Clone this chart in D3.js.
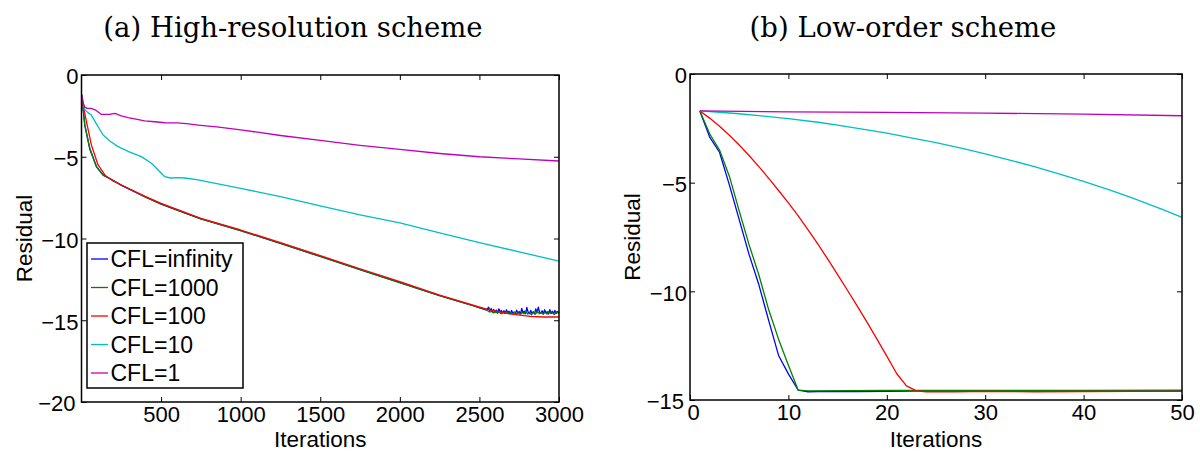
<!DOCTYPE html>
<html>
<head>
<meta charset="utf-8">
<script src="https://cdn.jsdelivr.net/npm/d3@7"></script>
<style>
  body { margin: 0; background: white; }
  svg text { font-family: "Liberation Sans", Arial, sans-serif; fill: black; }
  .title { font-family: "DejaVu Serif", serif; font-size: 27.5px; }
  .tick text { font-size: 22px; }
  .axis-label { font-size: 22.5px; }
  .legend-label { font-size: 23px; }
</style>
</head>
<body>
<div class="chart"></div>
<script>
'use strict';

// Series names, shared by both panels
var SERIES_NAMES = ['CFL=infinity', 'CFL=1000', 'CFL=100', 'CFL=10', 'CFL=1'];
var SERIES_COLOR = ['#0000ff', '#008000', '#ff0000', '#00bfbf', '#bf00bf'];

var TITLES = ['(a) High-resolution scheme', '(b) Low-order scheme'];

// Tick values
var HI_X_TICKS = [500, 1000, 1500, 2000, 2500, 3000];
var HI_Y_TICKS = [0, -5, -10, -15, -20];
var LO_X_TICKS = [0, 10, 20, 30, 40, 50];
var LO_Y_TICKS = [0, -5, -10, -15];

// (a) High-resolution scheme: [iteration, log residual]
var hiInfinity = [
  [1, -1.22], [21, -3.1], [52, -4.52], [94, -5.62], [136, -6.12], [200, -6.45], [251, -6.75],
  [400, -7.46], [500, -7.9], [600, -8.26], [750, -8.8], [1000, -9.52], [1250, -10.3],
  [1500, -11.1], [1750, -11.9], [2000, -12.7], [2250, -13.5], [2460, -14.1], [2540, -14.36],
  [2550, -14.3], [2558, -14.2], [2566, -14.42], [2574, -14.28], [2582, -14.5], [2590, -14.34],
  [2598, -14.52], [2606, -14.38], [2614, -14.55], [2622, -14.3], [2630, -14.5], [2638, -14.4],
  [2646, -14.56], [2654, -14.42], [2662, -14.58], [2670, -14.36], [2678, -14.55], [2686, -14.45],
  [2694, -14.6], [2702, -14.4], [2710, -14.58], [2718, -14.5], [2726, -14.6], [2734, -14.38],
  [2742, -14.58], [2750, -14.46], [2758, -14.62], [2766, -14.28], [2774, -14.55], [2782, -14.45],
  [2790, -14.6], [2798, -14.22], [2806, -14.5], [2814, -14.6], [2822, -14.4], [2830, -14.58],
  [2838, -14.48], [2846, -14.62], [2854, -14.3], [2862, -14.55], [2870, -14.2], [2878, -14.5],
  [2886, -14.58], [2894, -14.42], [2902, -14.6], [2910, -14.36], [2918, -14.55], [2926, -14.48],
  [2934, -14.62], [2942, -14.35], [2950, -14.56], [2958, -14.45], [2966, -14.6], [2974, -14.4],
  [2982, -14.58], [2990, -14.46], [3000, -14.55]
];
var hi1000 = [
  [1, -1.22], [21, -3.06], [52, -4.48], [94, -5.6], [136, -6.12], [200, -6.45], [251, -6.73],
  [400, -7.45], [500, -7.88], [600, -8.25], [750, -8.8], [1000, -9.52], [1250, -10.3],
  [1500, -11.1], [1750, -11.9], [2000, -12.7], [2250, -13.5], [2460, -14.1], [2540, -14.35],
  [2552, -14.42], [2564, -14.5], [2576, -14.45], [2588, -14.55], [2600, -14.48], [2612, -14.56],
  [2624, -14.5], [2636, -14.6], [2648, -14.52], [2660, -14.58], [2672, -14.48], [2684, -14.6],
  [2696, -14.55], [2708, -14.62], [2720, -14.5], [2732, -14.6], [2744, -14.54], [2756, -14.64],
  [2768, -14.52], [2780, -14.6], [2792, -14.45], [2804, -14.62], [2816, -14.55], [2828, -14.66],
  [2840, -14.5], [2852, -14.62], [2864, -14.44], [2876, -14.6], [2888, -14.52], [2900, -14.64],
  [2912, -14.5], [2924, -14.62], [2936, -14.48], [2948, -14.6], [2960, -14.55], [2972, -14.64],
  [2984, -14.5], [3000, -14.58]
];
var hi100 = [
  [1, -1.22], [10, -1.83], [31, -2.85], [62, -4.28], [104, -5.5], [150, -6.15], [200, -6.5],
  [250, -6.73], [400, -7.42], [500, -7.85], [600, -8.22], [750, -8.77], [1000, -9.48],
  [1250, -10.25], [1500, -11.05], [1750, -11.85], [2000, -12.64], [2250, -13.46], [2460, -14.07],
  [2550, -14.33], [2672, -14.58], [2818, -14.76], [2900, -14.8], [3000, -14.8]
];
var hi10 = [
  [1, -1.22], [20, -2.1], [40, -2.3], [62, -2.45], [100, -3.1], [136, -3.67], [180, -4.05],
  [230, -4.38], [300, -4.7], [376, -4.99], [439, -5.4], [480, -5.8], [523, -6.22], [560, -6.3],
  [607, -6.28], [650, -6.3], [732, -6.42], [1000, -6.93], [1250, -7.44], [1500, -8.0],
  [1750, -8.55], [2000, -9.05], [2250, -9.65], [2500, -10.25], [2750, -10.82], [3000, -11.38]
];
var hi1 = [
  [1, -1.22], [10, -1.7], [20, -1.95], [35, -2.04], [60, -2.04], [90, -2.15], [125, -2.41],
  [175, -2.41], [210, -2.35], [250, -2.5], [293, -2.61], [350, -2.72], [397, -2.81],
  [460, -2.86], [523, -2.92], [600, -2.93], [660, -2.98], [732, -3.06], [850, -3.17],
  [1000, -3.35], [1250, -3.7], [1500, -4.0], [1750, -4.3], [2000, -4.55], [2250, -4.8],
  [2500, -5.0], [2750, -5.13], [3000, -5.26]
];

// (b) Low-order scheme: [iteration, log residual]
var loInfinity = [
  [1, -1.7], [2, -2.9], [3, -3.6], [4, -5.1], [5, -6.7], [6, -8.3], [7, -9.7], [8, -11.35],
  [9, -12.95], [10, -13.8], [11, -14.55], [12, -14.62], [14, -14.6], [17, -14.61], [20, -14.6],
  [25, -14.58], [30, -14.6], [35, -14.58], [40, -14.59], [45, -14.58], [50, -14.58]
];
var lo1000 = [
  [1, -1.7], [2, -2.75], [3, -3.5], [4, -4.7], [5, -6.3], [6, -7.85], [7, -9.25], [8, -10.85],
  [9, -12.2], [10, -13.4], [11, -14.55], [12, -14.58], [16, -14.57], [20, -14.56], [30, -14.56],
  [40, -14.56], [50, -14.55]
];
var lo100 = [
  [1, -1.7], [2, -2.03], [3, -2.4], [4, -2.82], [5, -3.27], [6, -3.75], [7, -4.26], [8, -4.8],
  [9, -5.36], [10, -5.93], [11, -6.53], [12, -7.17], [13, -7.83], [14, -8.52], [15, -9.23],
  [16, -9.95], [17, -10.68], [18, -11.43], [19, -12.2], [20, -12.98], [21, -13.78], [22, -14.35],
  [23, -14.58], [24, -14.62], [27, -14.62], [30, -14.6], [35, -14.62], [40, -14.61], [45, -14.6],
  [50, -14.6]
];
var lo10 = [
  [1, -1.7], [3, -1.76], [5, -1.83], [8, -1.96], [10, -2.05], [13, -2.22], [15, -2.35],
  [18, -2.57], [20, -2.72], [23, -2.98], [25, -3.16], [28, -3.46], [30, -3.67], [33, -4.02],
  [35, -4.26], [38, -4.66], [40, -4.94], [43, -5.39], [45, -5.71], [48, -6.23], [50, -6.6]
];
var lo1 = [
  [1, -1.7], [10, -1.74], [20, -1.77], [30, -1.8], [40, -1.85], [50, -1.92]
];

var svg = d3.select('.chart').append('svg')
  .attr('width', 1200)
  .attr('height', 452);

drawPanel({
  title: TITLES[0], titleX: 293,
  left: 81.5, right: 559, top: 75, bottom: 402,
  xDomain: [0, 3000], yDomain: [-20, 0],
  xTicks: HI_X_TICKS, yTicks: HI_Y_TICKS,
  series: [hiInfinity, hi1000, hi100, hi10, hi1],
  yLabelX: 32,
  legend: true
});

drawPanel({
  title: TITLES[1], titleX: 903,
  left: 690, right: 1182, top: 74, bottom: 400,
  xDomain: [0, 50], yDomain: [-15, 0],
  xTicks: LO_X_TICKS, yTicks: LO_Y_TICKS,
  series: [loInfinity, lo1000, lo100, lo10, lo1],
  yLabelX: 640,
  legend: false
});

function drawPanel(cfg) {
  var x = d3.scaleLinear().domain(cfg.xDomain).range([cfg.left, cfg.right]);
  var y = d3.scaleLinear().domain(cfg.yDomain).range([cfg.bottom, cfg.top]);
  var fmt = d3.format('d');

  svg.append('text')
    .attr('class', 'title')
    .attr('x', cfg.titleX)
    .attr('y', 37)
    .attr('text-anchor', 'middle')
    .text(cfg.title);

  // Lines, in MATLAB plot order so red ends up on top of green/blue
  var line = d3.line()
    .x(function(d) { return x(d[0]); })
    .y(function(d) { return y(d[1]); });

  cfg.series.forEach(function(s, i) {
    svg.append('path')
      .datum(s)
      .attr('d', line)
      .attr('fill', 'none')
      .attr('stroke', SERIES_COLOR[i])
      .attr('stroke-width', 1.3)
      .attr('stroke-linejoin', 'round');
  });

  // Ticks point inward on all four sides
  function styleAxis(g) {
    g.select('.domain').remove();
    g.selectAll('.tick line').attr('stroke', 'black').attr('stroke-width', 1);
    g.selectAll('.tick text').attr('font-size', null).attr('font-family', null);
  }

  var xAxis = svg.append('g')
    .attr('transform', 'translate(0,' + cfg.bottom + ')')
    .call(d3.axisBottom(x).tickValues(cfg.xTicks).tickFormat(fmt).tickSizeInner(-5).tickSizeOuter(0).tickPadding(4))
    .call(styleAxis);

  svg.append('g')
    .attr('transform', 'translate(0,' + cfg.top + ')')
    .call(d3.axisTop(x).tickValues(cfg.xTicks).tickFormat('').tickSizeInner(-5).tickSizeOuter(0))
    .call(styleAxis);

  var yAxis = svg.append('g')
    .attr('transform', 'translate(' + cfg.left + ',0)')
    .call(d3.axisLeft(y).tickValues(cfg.yTicks).tickFormat(fmt).tickSizeInner(-5).tickSizeOuter(0).tickPadding(3))
    .call(styleAxis);
  yAxis.selectAll('text').attr('dy', '0.4em');

  // Corner labels share the origin; nudge them apart a little
  xAxis.selectAll('.tick text')
    .filter(function(d) { return d === cfg.xDomain[0]; })
    .attr('dx', 3);
  yAxis.selectAll('.tick text')
    .filter(function(d) { return d === cfg.yDomain[0]; })
    .attr('dx', -3);

  svg.append('g')
    .attr('transform', 'translate(' + cfg.right + ',0)')
    .call(d3.axisRight(y).tickValues(cfg.yTicks).tickFormat('').tickSizeInner(-5).tickSizeOuter(0))
    .call(styleAxis);

  // Axis box
  svg.append('rect')
    .attr('x', cfg.left)
    .attr('y', cfg.top)
    .attr('width', cfg.right - cfg.left)
    .attr('height', cfg.bottom - cfg.top)
    .attr('fill', 'none')
    .attr('stroke', 'black')
    .attr('stroke-width', 1.5);

  svg.append('text')
    .attr('class', 'axis-label')
    .attr('x', (cfg.left + cfg.right) / 2)
    .attr('y', 446.5)
    .attr('text-anchor', 'middle')
    .text('Iterations');

  svg.append('text')
    .attr('class', 'axis-label')
    .attr('transform', 'translate(' + cfg.yLabelX + ',' + (cfg.top + cfg.bottom) / 2 + ') rotate(-90)')
    .attr('text-anchor', 'middle')
    .text('Residual');

  if (cfg.legend) {
    drawLegend();
  }
}

function drawLegend() {
  var g = svg.append('g').attr('transform', 'translate(87,243)');

  g.append('rect')
    .attr('width', 156)
    .attr('height', 145)
    .attr('fill', 'white')
    .attr('stroke', 'black')
    .attr('stroke-width', 1.5);

  var rows = g.selectAll('g.legend-row')
    .data(SERIES_NAMES)
    .enter()
    .append('g')
    .attr('class', 'legend-row')
    .attr('transform', function(d, i) { return 'translate(0,' + (16 + i * 28.5) + ')'; });

  rows.append('line')
    .attr('x1', 4)
    .attr('x2', 21)
    .attr('stroke', function(d, i) { return SERIES_COLOR[i]; })
    .attr('stroke-width', 1.3);

  rows.append('text')
    .attr('class', 'legend-label')
    .attr('x', 23.5)
    .attr('y', 8)
    .text(function(d) { return d; });
}
</script>
</body>
</html>
